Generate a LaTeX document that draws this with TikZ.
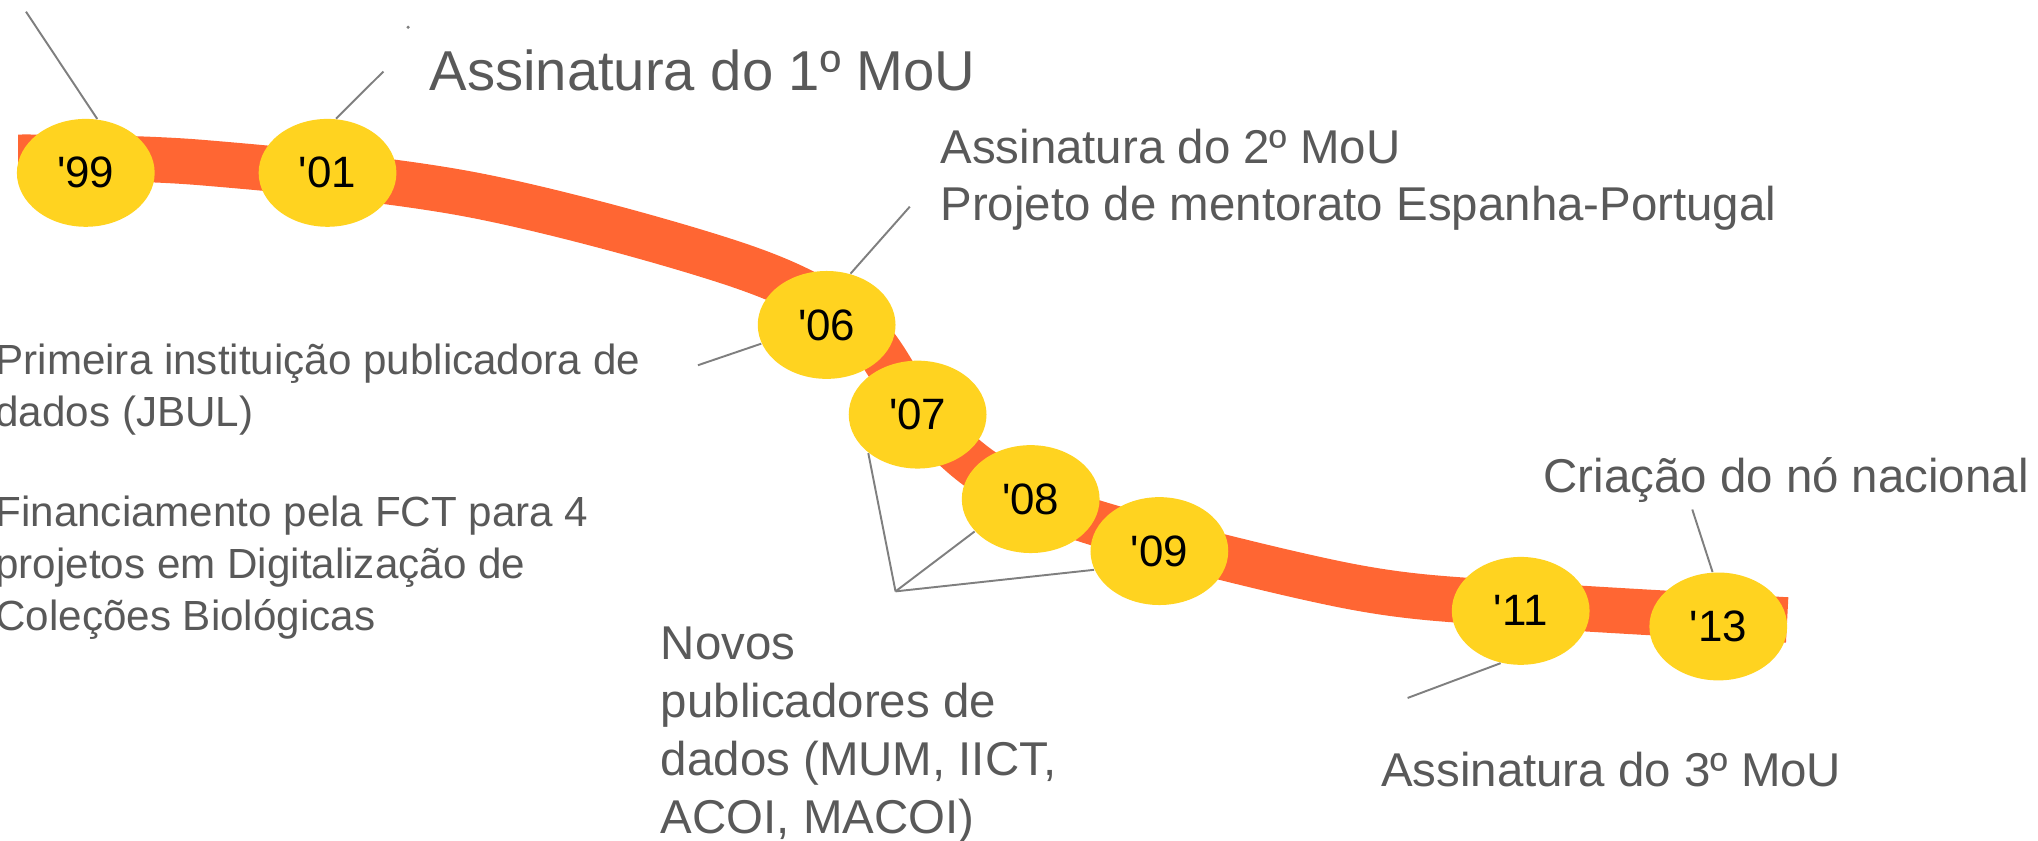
\documentclass[tikz,border=0pt]{standalone}
\usepackage{fontspec}
\setmainfont{Liberation Sans}
\usetikzlibrary{shapes.geometric}

\definecolor{tlorange}{HTML}{FF6633}
\definecolor{tlyellow}{HTML}{FFD320}
\definecolor{tltext}{HTML}{595959}
\definecolor{tlline}{HTML}{7F7F7F}

\newcommand{\tlleader}[2]{
	\draw[leaderline] (#1) -- (#2);
}

\begin{document}
\begin{tikzpicture}[x=0.013cm, y=-0.013cm,
	yearbubble/.style={ellipse, fill=tlyellow, minimum width=1.378cm, minimum height=1.079cm, inner sep=0pt, font=\fontsize{12.5}{14}\selectfont},
	event/.style={anchor=base west, inner sep=0pt, align=left, text=tltext},
	leaderline/.style={draw=tlline, line width=0.55pt}]
\useasboundingbox (0,0) rectangle (1568,647);

\draw[tlorange, line width=0.455cm] plot[smooth, tension=0.55] coordinates {(14,121) (154,125) (364,150) (571,205) (660,252) (706,315) (760,365) (842,402) (1038,451) (1170,465) (1375,477)};

\node[yearbubble] (y99) at (66,133) {\textquotesingle99};
\node[yearbubble] (y01) at (252,133) {\textquotesingle01};
\node[yearbubble] (y06) at (636,250) {\textquotesingle06};
\node[yearbubble] (y07) at (706,319) {\textquotesingle07};
\node[yearbubble] (y08) at (793,384) {\textquotesingle08};
\node[yearbubble] (y09) at (892,424) {\textquotesingle09};
\node[yearbubble] (y11) at (1170,470) {\textquotesingle11};
\node[yearbubble] (y13) at (1322,482) {\textquotesingle13};

% base of a multi-line block is its last line
\node[event, font=\fontsize{16}{18}\selectfont] (mou1) at (330,70) {Assinatura do 1º MoU};
\node[event, font=\fontsize{13.5}{16.3}\selectfont] (mou2) at (723,170) {Assinatura do 2º MoU\\Projeto de mentorato Espanha-Portugal};
\node[event, font=\fontsize{12}{14.8}\selectfont] (jbul) at (-4,328) {Primeira instituição publicadora de\\dados (JBUL)};
\node[event, font=\fontsize{12}{14.8}\selectfont] (fct) at (-4,485) {Financiamento pela FCT para 4\\projetos em Digitalização de\\Coleções Biológicas};
\node[event, font=\fontsize{13.5}{16.5}\selectfont] (novos) at (508,641) {Novos\\publicadores de\\dados (MUM, IICT,\\ACOI, MACOI)};
\node[event, font=\fontsize{13.5}{16}\selectfont] (nacional) at (1187,379) {Criação do nó nacional};
\node[event, font=\fontsize{13.5}{16}\selectfont] (mou3) at (1062,605) {Assinatura do 3º MoU};

\coordinate (c99) at (20,9);
\coordinate (c01) at (295,55);
\coordinate (c06a) at (700,159);
\coordinate (c06b) at (537,281);
\coordinate (cnovos) at (689,455);
\coordinate (c11) at (1083,537);
\coordinate (c13) at (1302,392);

\tlleader{c99}{y99.78}
\tlleader{c01}{y01.81}
\tlleader{c06a}{y06.65}
\tlleader{c06b}{y06.196}
\tlleader{cnovos}{y07.218}
\tlleader{cnovos}{y08.210}
\tlleader{cnovos}{y09.196}
\tlleader{c11}{y11.249}
\tlleader{c13}{y13.96}

\fill[tlline] (314,21) circle[radius=0.5pt];
\end{tikzpicture}
\end{document}
